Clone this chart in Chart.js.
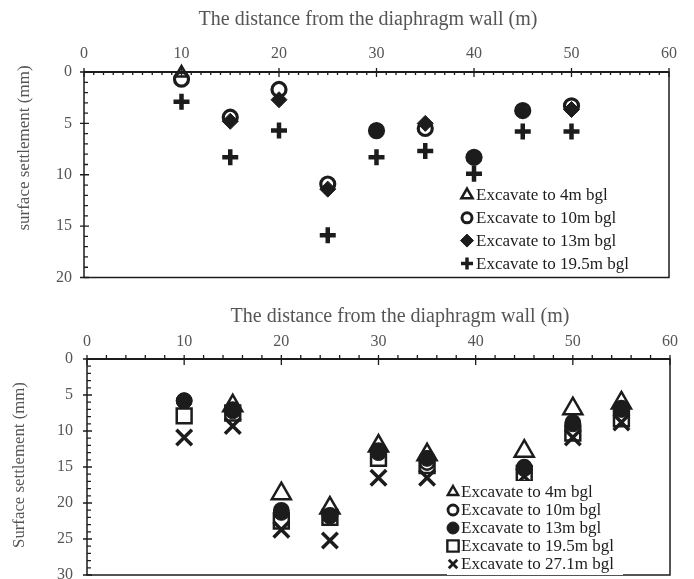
<!DOCTYPE html>
<html>
<head>
<meta charset="utf-8">
<script src="https://cdn.jsdelivr.net/npm/chart.js"></script>
<style>
  html, body { margin: 0; padding: 0; background: #fff; overflow: hidden; }
  canvas { display: block; }
  #bottomWrap { position: absolute; left: 0; top: 290px; }
  #topWrap { position: absolute; left: 0; top: 0; }
</style>
</head>
<body>
<div id="topWrap"><canvas id="topChart" width="694" height="290"></canvas></div>
<div id="bottomWrap"><canvas id="bottomChart" width="694" height="300"></canvas></div>
<script>
// top chart: distance (m) and settlement (mm)
const topDistance = [10, 15, 20, 25, 30, 35, 40, 45, 50];
const top4m   = [0.1, null, null, null, null, null, null, null, null];
const top10m  = [0.7, 4.4, 1.7, 10.9, 5.7, 5.5, 8.3, 3.75, 3.3];
const top13m  = [null, 4.8, 2.7, 11.4, 5.7, 5.0, 8.3, 3.8, 3.65];
const top195m = [2.9, 8.3, 5.7, 15.9, 8.3, 7.7, 9.9, 5.8, 5.8];

// bottom chart
const botDistance = [10, 15, 20, 25, 30, 35, 45, 50, 55];
const bot4m   = [null, 6.5, 18.7, 20.7, 12.1, 13.3, 12.8, 6.9, 6.1];
const bot10m  = [5.8, 7.0, 21.0, 21.7, 12.7, 14.4, 15.0, 8.8, 6.8];
const bot13m  = [5.8, 7.2, 21.3, 21.8, 13.0, 13.8, 15.2, 9.0, 7.0];
const bot195m = [7.9, 7.5, 22.5, 22.0, 13.8, 14.8, 15.9, 10.3, 8.3];
const bot271m = [10.9, 9.3, 23.7, 25.2, 16.5, 16.5, 16.3, 10.9, 8.8];

const xTicks = [0, 10, 20, 30, 40, 50, 60];
const topYTicks = [0, 5, 10, 15, 20];
const botYTicks = [0, 5, 10, 15, 20, 25, 30];

const INK = '#1c1c1c';
const GREY = '#555';
const SERIF = '"Liberation Serif", "DejaVu Serif", serif';

function pts(xs, ys) {
  return xs.map((x, i) => ys[i] == null ? null : { x: x, y: ys[i] }).filter(Boolean);
}

function series(label, xs, ys, style, order) {
  return Object.assign({
    label: label,
    data: pts(xs, ys),
    borderColor: INK,
    backgroundColor: 'rgba(0,0,0,0)',
    clip: false,
    order: order
  }, style);
}

// frame, tick marks, titles
const decor = {
  id: 'decor',
  beforeDatasetsDraw(chart, args, o) {
    const ctx = chart.ctx, a = chart.chartArea;
    const xs = chart.scales.x, ys = chart.scales.y;
    ctx.save();
    ctx.strokeStyle = INK;
    ctx.lineWidth = 1.5;
    ctx.strokeRect(a.left, a.top, a.right - a.left, a.bottom - a.top);
    ctx.lineWidth = 2;
    ctx.beginPath(); ctx.moveTo(a.left, a.top); ctx.lineTo(a.right, a.top); ctx.stroke();
    ctx.lineWidth = 1.3;
    ctx.beginPath();
    for (let v = 0; v <= 60; v += o.xMinor) {
      const px = xs.getPixelForValue(v);
      if (v % 10 === 0) { ctx.moveTo(px, a.top - 4); ctx.lineTo(px, a.top + o.xMajorDown); }
      else { ctx.moveTo(px, a.top + o.xMinorFrom); ctx.lineTo(px, a.top + o.xMinorTo); }
    }
    for (let v = 0; v <= ys.max; v += 1) {
      const py = ys.getPixelForValue(v);
      if (v % 5 === 0) { ctx.moveTo(a.left - 4, py); ctx.lineTo(a.left + 5, py); }
      else { ctx.moveTo(a.left, py); ctx.lineTo(a.left + 4, py); }
    }
    ctx.stroke();

    ctx.fillStyle = GREY;
    ctx.textAlign = 'center';
    ctx.textBaseline = 'middle';
    ctx.font = '20px ' + SERIF;
    ctx.fillText(o.xTitle, o.xTitleAt[0], o.xTitleAt[1]);
    ctx.translate(o.yTitleAt[0], o.yTitleAt[1]);
    ctx.rotate(-Math.PI / 2);
    ctx.font = o.yTitleSize + 'px ' + SERIF;
    ctx.fillText(o.yTitle, 0, 0);
    ctx.restore();
  }
};

// legend box drawn over the markers
const keyBox = {
  id: 'keyBox',
  afterDraw(chart, args, o) {
    const ctx = chart.ctx;
    ctx.save();
    ctx.fillStyle = '#fff';
    ctx.fillRect(o.box[0], o.box[1], o.box[2], o.box[3]);
    chart.data.datasets.forEach((ds, i) => {
      const y = o.y0 + i * o.dy;
      ctx.fillStyle = ds.backgroundColor;
      ctx.strokeStyle = ds.borderColor;
      ctx.lineWidth = o.border[i];
      Chart.helpers.drawPoint(ctx, {
        pointStyle: ds.pointStyle,
        radius: o.radius[i],
        rotation: 0,
        borderWidth: o.border[i]
      }, o.markX, y);
      ctx.fillStyle = INK;
      ctx.font = '17px ' + SERIF;
      ctx.textAlign = 'left';
      ctx.textBaseline = 'middle';
      ctx.fillText(ds.label, o.textX, y + 1);
    });
    ctx.restore();
  }
};

function scales(yMax, yTickVals, xHeight, yWidth, xPad, yPad) {
  return {
    x: {
      type: 'linear', position: 'top', min: 0, max: 60,
      afterBuildTicks: s => { s.ticks = xTicks.map(v => ({ value: v })); },
      ticks: { color: GREY, font: { family: SERIF, size: 16 }, padding: xPad },
      grid: { display: false, drawTicks: false },
      border: { display: false },
      afterFit: s => { s.height = xHeight; s.paddingLeft = 0; s.paddingRight = 0; }
    },
    y: {
      type: 'linear', reverse: true, min: 0, max: yMax,
      afterBuildTicks: s => { s.ticks = yTickVals.map(v => ({ value: v })); },
      ticks: { color: GREY, font: { family: SERIF, size: 16 }, padding: yPad },
      grid: { display: false, drawTicks: false },
      border: { display: false },
      afterFit: s => { s.width = yWidth; s.paddingTop = 0; s.paddingBottom = 0; }
    }
  };
}

new Chart(document.getElementById('topChart'), {
  type: 'scatter',
  data: {
    datasets: [
      series('Excavate to 4m bgl', topDistance, top4m, { pointStyle: 'triangle', pointRadius: 7, borderWidth: 2.5 }, 3),
      series('Excavate to 10m bgl', topDistance, top10m, { pointStyle: 'circle', pointRadius: 7, borderWidth: 3.2 }, 2),
      series('Excavate to 13m bgl', topDistance, top13m, { pointStyle: 'rectRot', pointRadius: 8, borderWidth: 1, backgroundColor: INK }, 0),
      series('Excavate to 19.5m bgl', topDistance, top195m, { pointStyle: 'cross', pointRadius: 8, borderWidth: 4.5 }, 1)
    ]
  },
  options: {
    responsive: false,
    animation: false,
    events: [],
    layout: { padding: { left: 0, right: 25, top: 0, bottom: 11 } },
    scales: scales(20, topYTicks, 72, 84, 9, 12),
    plugins: {
      legend: { display: false },
      tooltip: { enabled: false },
      decor: {
        xMinor: 1, xMinorFrom: -1, xMinorTo: 3, xMajorDown: 5,
        xTitle: 'The distance from the diaphragm wall (m)', xTitleAt: [368, 20],
        yTitle: 'surface settlement (mm)', yTitleAt: [25, 148], yTitleSize: 17
      },
      keyBox: {
        box: [459, 183, 166, 92],
        markX: 467, textX: 476, y0: 195, dy: 22.8,
        radius: [6.5, 5, 6.5, 6], border: [2.5, 3, 1, 3.5]
      }
    }
  },
  plugins: [decor, keyBox]
});

new Chart(document.getElementById('bottomChart'), {
  type: 'scatter',
  data: {
    datasets: [
      series('Excavate to 4m bgl', botDistance, bot4m, { pointStyle: 'triangle', pointRadius: 11, borderWidth: 2.5 }, 2),
      series('Excavate to 10m bgl', botDistance, bot10m, { pointStyle: 'circle', pointRadius: 7, borderWidth: 2.5 }, 1),
      series('Excavate to 13m bgl', botDistance, bot13m, { pointStyle: 'circle', pointRadius: 8, borderWidth: 1, backgroundColor: INK }, 0),
      series('Excavate to 19.5m bgl', botDistance, bot195m, { pointStyle: 'rect', pointRadius: 10.5, borderWidth: 2.5 }, 3),
      series('Excavate to 27.1m bgl', botDistance, bot271m, { pointStyle: 'crossRot', pointRadius: 11, borderWidth: 3.5 }, 4)
    ]
  },
  options: {
    responsive: false,
    animation: false,
    events: [],
    layout: { padding: { left: 0, right: 24, top: 0, bottom: 15 } },
    scales: scales(30, botYTicks, 69, 87, 8, 14),
    plugins: {
      legend: { display: false },
      tooltip: { enabled: false },
      decor: {
        xMinor: 2, xMinorFrom: -4, xMinorTo: 0, xMajorDown: 6,
        xTitle: 'The distance from the diaphragm wall (m)', xTitleAt: [400, 27],
        yTitle: 'Surface settlement (mm)', yTitleAt: [20, 175], yTitleSize: 16.8
      },
      keyBox: {
        box: [447, 191, 176, 94],
        markX: 453, textX: 461, y0: 202, dy: 18,
        radius: [6, 5, 6, 8, 6], border: [2.4, 2.8, 1, 2.4, 2.8]
      }
    }
  },
  plugins: [decor, keyBox]
});
</script>
</body>
</html>
